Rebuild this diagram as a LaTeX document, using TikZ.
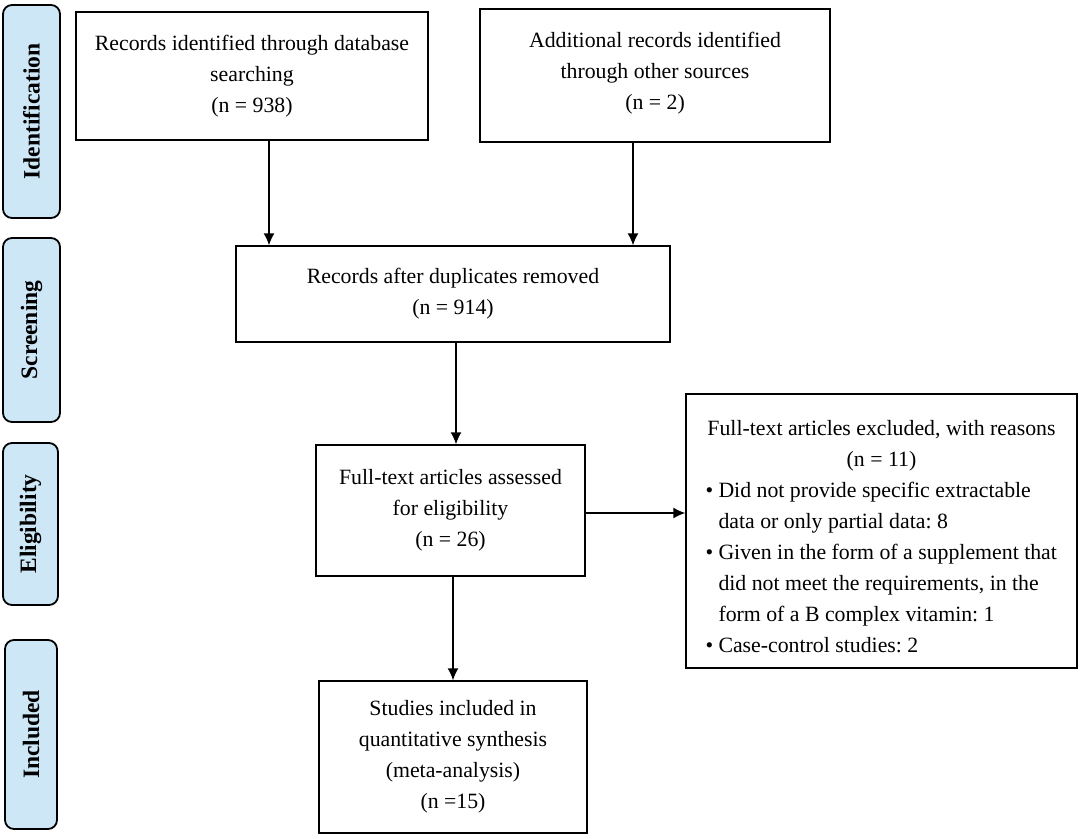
\documentclass[tikz,border=0pt]{standalone}
\usepackage{fontspec}
\setmainfont{Liberation Serif}
\usetikzlibrary{arrows.meta}
\definecolor{phasefill}{HTML}{CDE7F7}
\frenchspacing
\begin{document}
\begin{tikzpicture}[x=1pt,y=-1pt,
  box/.style={draw=black, line width=1.4pt, inner sep=0pt, align=center,
    font=\fontsize{21.8}{31}\selectfont},
  phase/.style={draw=black, line width=1.8pt, fill=phasefill, rounded corners=9pt,
    inner sep=0pt, rotate=90, font=\fontsize{23.5}{27}\selectfont\bfseries},
  arr/.style={line width=1.4pt, -{Latex[length=12pt,width=11pt]}}]
\useasboundingbox (0,0) rectangle (1084,838);
% phase labels
\node[phase, minimum width=213pt, minimum height=57pt] (p1) at (31.5,111.5) {Identification};
\node[phase, minimum width=184pt, minimum height=57pt] (p2) at (31.5,330) {Screening};
\node[phase, minimum width=162pt, minimum height=55pt] (p3) at (30.5,524) {Eligibility};
\node[phase, minimum width=189pt, minimum height=52pt] (p4) at (31,734.5) {Included};
% boxes
\node[box, minimum width=352pt, minimum height=128pt] (A) at (252,76)
  {Records identified through database\\searching\\(n = 938)};
\node[box, minimum width=350pt, minimum height=133pt] (B) at (655,75.5)
  {Additional records identified\\through other sources\\(n = 2)\\[-22pt]};
\node[box, minimum width=434pt, minimum height=96pt] (C) at (453,294)
  {Records after duplicates removed\\(n = 914)};
\node[box, minimum width=269pt, minimum height=131pt] (D) at (450.5,510.5)
  {Full-text articles assessed\\for eligibility\\(n = 26)};
\node[box, minimum width=268pt, minimum height=152pt] (F) at (453,757)
  {Studies included in\\quantitative synthesis\\(meta-analysis)\\(n =15)};
\node[box, minimum width=391pt, minimum height=274pt, align=left] (E) at (881.5,531)
  {\rule{0pt}{25.5pt}\makebox[352pt][c]{Full-text articles excluded, with reasons}\\
   \makebox[352pt][c]{(n = 11)}\\
   \makebox[13pt][l]{•}Did not provide specific extractable\\
   \hspace*{13pt}data or only partial data: 8\\
   \makebox[13pt][l]{•}Given in the form of a supplement that\\
   \hspace*{13pt}did not meet the requirements, in the\\
   \hspace*{13pt}form of a B complex vitamin: 1\\
   \makebox[13pt][l]{•}Case-control studies: 2};
% connectors
\draw[arr] ([xshift=17pt]A.south) -- ([xshift=17pt]A.south |- C.north);
\draw[arr] ([xshift=-22pt]B.south) -- ([xshift=-22pt]B.south |- C.north);
\draw[arr] ([xshift=3pt]C.south) -- ([xshift=3pt]C.south |- D.north);
\draw[arr] ([yshift=-2.5pt]D.east) -- ([yshift=-2.5pt]D.east -| E.west);
\draw[arr] ([xshift=2.5pt]D.south) -- ([xshift=2.5pt]D.south |- F.north);
\end{tikzpicture}
\end{document}
